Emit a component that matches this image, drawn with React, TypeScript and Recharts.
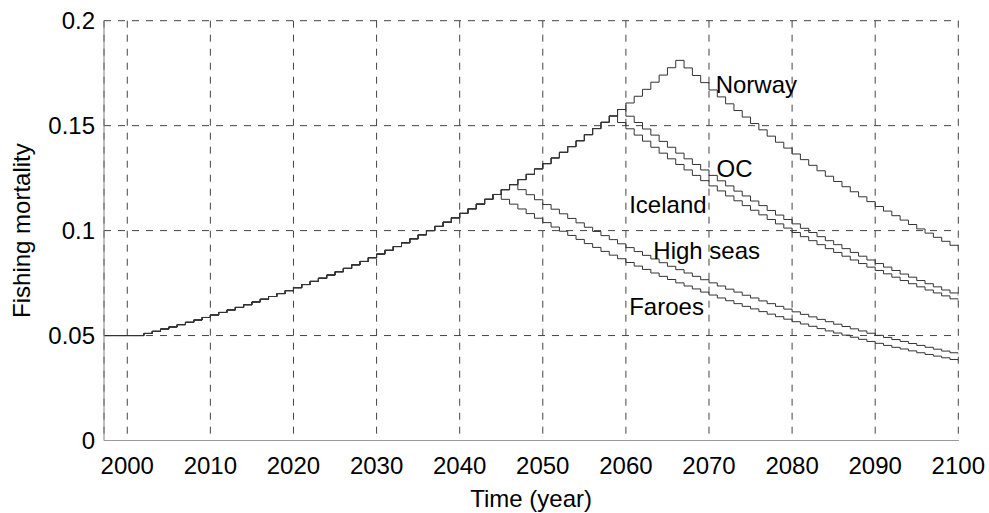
import React from "react";
import {
  LineChart,
  Line,
  XAxis,
  YAxis,
  CartesianGrid,
  ReferenceDot,
  ReferenceLine,
} from "recharts";

// Fishing mortality shared by all fleets from 1997 until each one turns down.
const FIRST_YEAR = 1997;
const LAST_YEAR = 2100;
const risingF = [
  0.05, 0.05, 0.05, 0.05, 0.05,
  0.051, 0.052, 0.0531, 0.0541, 0.0552, 0.0563, 0.0574, 0.0586, 0.0598,
  0.061, 0.0622, 0.0634, 0.0647, 0.066, 0.0673, 0.0686, 0.07, 0.0714, 0.0728,
  0.0743, 0.0758, 0.0773, 0.0788, 0.0804, 0.082, 0.0837, 0.0853, 0.0871, 0.0888,
  0.0906, 0.0924, 0.0942, 0.0961, 0.098, 0.1, 0.102, 0.104, 0.1061, 0.1082,
  0.1104, 0.1126, 0.1149, 0.1172, 0.1195, 0.1219, 0.1243, 0.1268, 0.1294, 0.1319,
  0.1346, 0.1373, 0.14, 0.1428, 0.1457, 0.1486, 0.1516, 0.1546, 0.1577, 0.1608,
  0.164, 0.1673, 0.1707, 0.1741, 0.1776, 0.1811,
];

// Declining mortality after each fleet's peak year (one value per year to 2100).
const faroesDecline = [
  0.1149, 0.1126, 0.1103, 0.1081, 0.1059, 0.1038, 0.1017, 0.0997, 0.0977, 0.0958,
  0.0938, 0.092, 0.0901, 0.0883, 0.0866, 0.0848, 0.0831, 0.0815, 0.0798, 0.0782,
  0.0767, 0.0751, 0.0736, 0.0722, 0.0707, 0.0693, 0.0679, 0.0666, 0.0652, 0.0639,
  0.0627, 0.0614, 0.0602, 0.059, 0.0578, 0.0566, 0.0555, 0.0544, 0.0533, 0.0522,
  0.0512, 0.0502, 0.0492, 0.0482, 0.0472, 0.0463, 0.0453, 0.0444, 0.0436, 0.0427,
  0.0418, 0.041, 0.0402, 0.0394, 0.0386, 0.0378,
];
const highSeasDecline = [
  0.1195, 0.1171, 0.1147, 0.1124, 0.1102, 0.108, 0.1058, 0.1037, 0.1016, 0.0996,
  0.0976, 0.0957, 0.0937, 0.0919, 0.09, 0.0882, 0.0865, 0.0847, 0.083, 0.0814,
  0.0798, 0.0782, 0.0766, 0.0751, 0.0736, 0.0721, 0.0707, 0.0692, 0.0679, 0.0665,
  0.0652, 0.0639, 0.0626, 0.0613, 0.0601, 0.0589, 0.0577, 0.0566, 0.0554, 0.0543,
  0.0532, 0.0522, 0.0511, 0.0501, 0.0491, 0.0481, 0.0472, 0.0462, 0.0453, 0.0444,
  0.0435, 0.0426, 0.0418, 0.0409,
];
const icelandDecline = [
  0.1515, 0.1485, 0.1455, 0.1426, 0.1397, 0.1369, 0.1342, 0.1315, 0.1289, 0.1263,
  0.1238, 0.1213, 0.1189, 0.1165, 0.1142, 0.1119, 0.1097, 0.1075, 0.1053, 0.1032,
  0.1012, 0.0991, 0.0971, 0.0952, 0.0933, 0.0914, 0.0896, 0.0878, 0.086, 0.0843,
  0.0826, 0.081, 0.0794, 0.0778, 0.0762, 0.0747, 0.0732, 0.0717, 0.0703, 0.0689,
  0.0675, 0.0662,
];
const ocDecline = [
  0.1545, 0.1515, 0.1484, 0.1455, 0.1425, 0.1397, 0.1369, 0.1342, 0.1315, 0.1289,
  0.1263, 0.1237, 0.1213, 0.1188, 0.1165, 0.1141, 0.1119, 0.1096, 0.1074, 0.1053,
  0.1032, 0.1011, 0.0991, 0.0971, 0.0952, 0.0933, 0.0914, 0.0896, 0.0878, 0.086,
  0.0843, 0.0826, 0.081, 0.0793, 0.0778, 0.0762, 0.0747, 0.0732, 0.0717, 0.0703,
  0.0689,
];
const norwayDecline = [
  0.1775, 0.1739, 0.1705, 0.167, 0.1637, 0.1604, 0.1572, 0.1541, 0.151, 0.148,
  0.145, 0.1421, 0.1393, 0.1365, 0.1338, 0.1311, 0.1285, 0.1259, 0.1234, 0.1209,
  0.1185, 0.1161, 0.1138, 0.1115, 0.1093, 0.1071, 0.105, 0.1029, 0.1008, 0.0988,
  0.0968, 0.0949, 0.093, 0.0911,
];

const fleets = [
  { key: "faroes", name: "Faroes", peakYear: 2044, decline: faroesDecline },
  { key: "highSeas", name: "High seas", peakYear: 2046, decline: highSeasDecline },
  { key: "iceland", name: "Iceland", peakYear: 2058, decline: icelandDecline },
  { key: "oc", name: "OC", peakYear: 2059, decline: ocDecline },
  { key: "norway", name: "Norway", peakYear: 2066, decline: norwayDecline },
];

// Curve labels, placed in data coordinates (text baseline-left corner).
const curveLabels = [
  { text: "Norway", year: 2070.8, value: 0.1655 },
  { text: "OC", year: 2070.9, value: 0.1253 },
  { text: "Iceland", year: 2060.4, value: 0.1084 },
  { text: "High seas", year: 2063.3, value: 0.0867 },
  { text: "Faroes", year: 2060.4, value: 0.06 },
];

const xTicks = [2000, 2010, 2020, 2030, 2040, 2050, 2060, 2070, 2080, 2090, 2100];
const yTicks = [0, 0.05, 0.1, 0.15, 0.2];

const rows: Record<string, number>[] = [];
for (let year = FIRST_YEAR; year <= LAST_YEAR; year++) {
  const row: Record<string, number> = { year };
  for (const f of fleets) {
    row[f.key] =
      year <= f.peakYear ? risingF[year - FIRST_YEAR] : f.decline[year - f.peakYear - 1];
  }
  rows.push(row);
}

const FONT = "'Liberation Sans', Arial, Helvetica, sans-serif";
const GRID_DASH = "7 7";

const CurveText = (text: string) => (props: any) => (
  <text
    x={props.cx}
    y={props.cy}
    textAnchor="start"
    fontFamily={FONT}
    fontSize={24}
    fill="#000"
  >
    {text}
  </text>
);

const YTitle = (props: any) => {
  const vb = props.viewBox || {};
  const cy = (vb.y ?? 0) + (vb.height ?? 0) / 2;
  return (
    <text
      transform={`translate(29.5, ${cy}) rotate(-90)`}
      textAnchor="middle"
      fontFamily={FONT}
      fontSize={24}
      fill="#000"
    >
      Fishing mortality
    </text>
  );
};

export default function App() {
  return (
    <div style={{ position: "absolute", left: 0, top: 0, background: "#fff" }}>
      <LineChart
        width={989}
        height={513}
        data={rows}
        margin={{ top: 20.7, right: 30.7, left: 0, bottom: 0 }}
      >
        <CartesianGrid stroke="#444" strokeDasharray={GRID_DASH} strokeWidth={1} />
        <XAxis
          dataKey="year"
          type="number"
          domain={[1997.2, 2100]}
          allowDataOverflow
          ticks={xTicks}
          interval={0}
          height={72.5}
          tickLine={false}
          tickMargin={10}
          axisLine={{ stroke: "#9a9a9a" }}
          tick={{ fill: "#000", fontSize: 24, fontFamily: FONT }}
          label={{
            value: "Time (year)",
            position: "insideBottom",
            offset: 6,
            fill: "#000",
            fontSize: 24,
            fontFamily: FONT,
          }}
        />
        <YAxis
          type="number"
          domain={[0, 0.2]}
          ticks={yTicks}
          interval={0}
          width={104}
          tickLine={false}
          tickMargin={3}
          axisLine={{ stroke: "#808080" }}
          tickFormatter={(v: number) => String(v)}
          tick={{ fill: "#000", fontSize: 24, fontFamily: FONT }}
          label={{ content: YTitle }}
        />
        <ReferenceLine y={0} stroke="#444" strokeDasharray={GRID_DASH} />
        {fleets.map((f) => (
          <Line
            key={f.key}
            dataKey={f.key}
            name={f.name}
            type="stepAfter"
            stroke="#333"
            strokeWidth={1}
            dot={false}
            activeDot={false}
            isAnimationActive={false}
          />
        ))}
        {curveLabels.map((l) => (
          <ReferenceDot
            key={l.text}
            x={l.year}
            y={l.value}
            r={0}
            shape={CurveText(l.text)}
          />
        ))}
      </LineChart>
    </div>
  );
}
